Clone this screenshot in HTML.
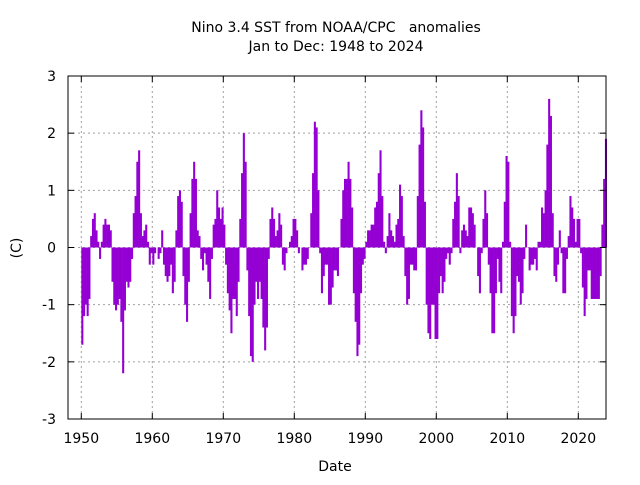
<!DOCTYPE html>
<html><head><meta charset="utf-8"><style>
body{margin:0;background:#fff}
svg text{font-family:"DejaVu Sans","Liberation Sans",sans-serif;font-size:14px;fill:#000;white-space:pre}
</style></head><body>
<svg id="c" width="640" height="480">
<text x="336" y="32" text-anchor="middle" xml:space="preserve">Nino 3.4 SST from NOAA/CPC   anomalies</text>
<text x="336" y="51" text-anchor="middle">Jan to Dec: 1948 to 2024</text>
<text x="335" y="471" text-anchor="middle">Date</text>
<text transform="translate(21,248) rotate(-90)" text-anchor="middle">(C)</text>
<g id="grid"></g>
<g id="bars"></g>
<g id="axes"></g>
</svg>
<script>
const startYear = 1950;
const perYear = 4;
const anomalies = [
-1.7,-1.2,-1.0,-1.2, -0.9,0.2,0.5,0.6, 0.3,0.1,-0.2,0.1, 0.4,0.5,0.4,0.4, 0.3,-0.6,-1.0,-1.1,
-1.0,-0.9,-1.3,-2.2, -1.1,-0.6,-0.7,-0.6, -0.2,0.6,0.9,1.5, 1.7,0.6,0.2,0.3, 0.4,0.1,-0.3,-0.1,
-0.3,-0.1,0.0,-0.2, -0.1,0.3,-0.3,-0.5, -0.6,-0.5,-0.3,-0.8, -0.6,0.3,0.9,1.0, 0.8,-0.5,-1.0,-1.3,
-0.6,0.6,1.2,1.5, 1.2,0.3,0.2,-0.2, -0.4,-0.1,-0.3,-0.6, -0.9,-0.2,0.4,0.5, 1.0,0.7,0.5,0.7,
0.4,-0.3,-0.8,-1.1, -1.5,-0.9,-0.9,-1.2, -0.6,0.5,1.3,2.0, 1.5,-0.4,-1.2,-1.9, -2.0,-1.0,-0.6,-0.9,
-0.6,-0.9,-1.4,-1.8, -1.4,-0.2,0.5,0.7, 0.5,0.2,0.3,0.6, 0.4,-0.3,-0.4,-0.1, 0.0,0.1,0.2,0.5,
0.5,0.3,-0.1,0.0, -0.4,-0.3,-0.3,-0.2, 0.0,0.6,1.3,2.2, 2.1,1.0,-0.1,-0.8, -0.5,-0.3,-0.3,-1.0,
-1.0,-0.7,-0.4,-0.4, -0.5,0.0,0.5,1.0, 1.2,1.2,1.5,1.2, 0.7,-0.8,-1.3,-1.9, -1.7,-0.8,-0.3,-0.2,
0.1,0.3,0.3,0.4, 0.4,0.7,0.8,1.3, 1.7,0.9,0.1,-0.1, 0.2,0.6,0.3,0.2, 0.1,0.4,0.5,1.1,
0.9,0.2,-0.5,-1.0, -0.9,-0.3,-0.3,-0.4, -0.4,0.9,1.8,2.4, 2.1,0.8,-1.0,-1.5, -1.6,-1.0,-1.0,-1.6,
-1.6,-0.8,-0.5,-0.8, -0.6,-0.2,-0.1,-0.3, -0.1,0.5,0.8,1.3, 0.9,-0.1,0.3,0.4, 0.3,0.2,0.7,0.7,
0.6,0.4,0.0,-0.5, -0.8,-0.1,0.5,1.0, 0.6,-0.3,-0.8,-1.5, -1.5,-0.8,-0.2,-0.6, -0.8,0.1,0.8,1.6,
1.5,0.1,-1.2,-1.5, -1.2,-0.5,-0.6,-1.0, -0.8,-0.2,0.4,0.0, -0.4,-0.3,-0.3,-0.2, -0.4,0.1,0.1,0.7,
0.6,1.0,1.8,2.6, 2.3,0.6,-0.5,-0.6, -0.3,0.3,-0.1,-0.8, -0.8,-0.2,0.2,0.9, 0.7,0.5,0.1,0.5,
0.5,-0.1,-0.7,-1.2, -0.9,-0.4,-0.4,-0.9, -0.9,-0.9,-0.9,-0.9, -0.5,0.4,1.2,1.9
];
const yTicks = [-3,-2,-1,0,1,2,3];
const xTicks = [1950,1960,1970,1980,1990,2000,2010,2020];
const NS='http://www.w3.org/2000/svg';
const L=68,R=606,T=76,B=419;
const xs = yr => 81.3 + (yr-1950)*7.1;
const ys = v => 247.5 - v*57.17;
function mk(tag,attrs,parent){const e=document.createElementNS(NS,tag);for(const k in attrs)e.setAttribute(k,attrs[k]);parent.appendChild(e);return e;}
const grid=document.getElementById('grid'),bars=document.getElementById('bars'),axes=document.getElementById('axes');
yTicks.forEach(v=>{
  const y=ys(v);
  if(v>-3&&v<3){const g=mk('line',{x1:L,x2:R,y1:y,y2:y,stroke:'#a0a0a0','stroke-dasharray':'2,3'},grid);
  
  }
  mk('line',{x1:L,x2:L+6,y1:y,y2:y,stroke:'#000'},axes);
  mk('line',{x1:R,x2:R-6,y1:y,y2:y,stroke:'#000'},axes);
  const t=mk('text',{x:L-12,y:y+5,'text-anchor':'end'},axes);t.textContent=v;
  
  
});
xTicks.forEach(yr=>{
  const x=xs(yr);
  const g=mk('line',{x1:x,x2:x,y1:T,y2:B,stroke:'#a0a0a0','stroke-dasharray':'2,3'},grid);
  
  
  mk('line',{x1:x,x2:x,y1:B,y2:B-6,stroke:'#000'},axes);
  mk('line',{x1:x,x2:x,y1:T,y2:T+6,stroke:'#000'},axes);
  const t=mk('text',{x:x,y:B+24,'text-anchor':'middle'},axes);t.textContent=yr;
  
  
});
const w=7.1/perYear;
anomalies.forEach((v,i)=>{
  const x=xs(startYear+i/perYear);
  const y0=ys(0),y1=ys(v);
  const r=mk('rect',{x:x,y:Math.min(y0,y1),width:w+0.3,height:Math.abs(y1-y0),fill:'#9400d3'},bars);
  
  
});
const f=mk('rect',{x:L,y:T,width:R-L,height:B-T,fill:'none',stroke:'#000'},axes);


</script>
</body></html>
